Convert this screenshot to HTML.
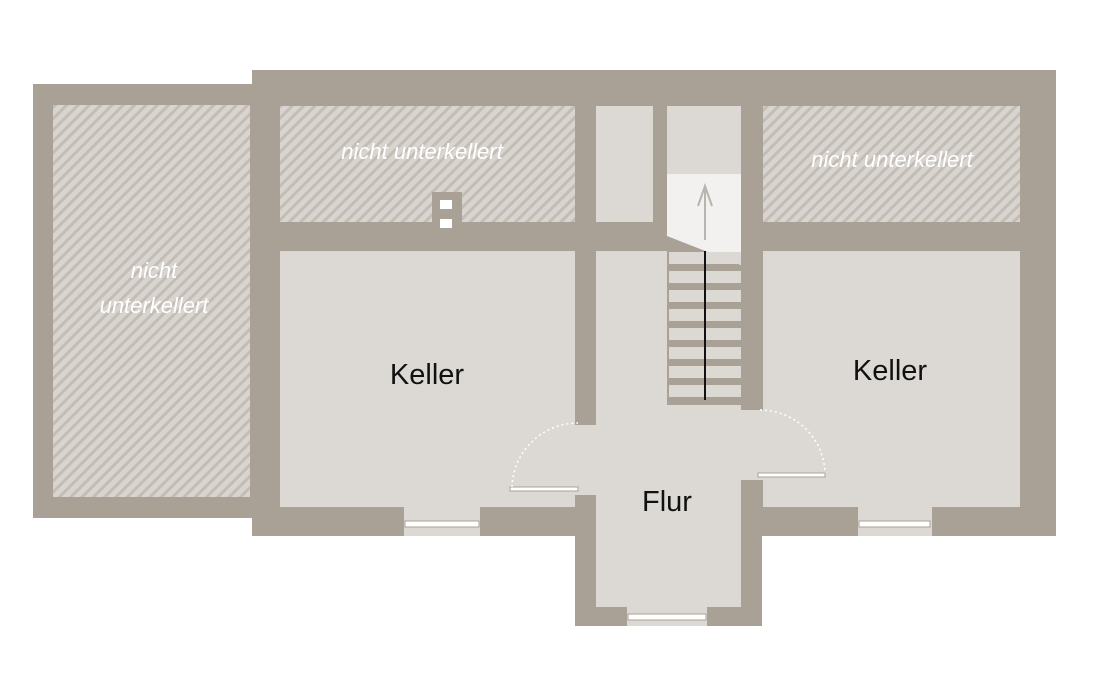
<!DOCTYPE html>
<html><head><style>body{margin:0;background:#fff}svg{display:block}</style></head><body>
<svg width="1098" height="686" viewBox="0 0 1098 686" xmlns="http://www.w3.org/2000/svg">
<defs>
<pattern id="h" patternUnits="userSpaceOnUse" width="8" height="8" patternTransform="rotate(45)">
<rect width="8" height="8" fill="#d8d4cf"/><rect width="3" height="8" fill="#c4bdb5"/>
</pattern>
</defs>
<g fill="#a9a196">
<rect x="33" y="84" width="225" height="434"/>
<rect x="252" y="70" width="804" height="466"/>
<rect x="575" y="500" width="187" height="126"/>
</g>
<rect x="53" y="105" width="197" height="392" fill="url(#h)"/>
<rect x="280" y="106" width="295" height="116" fill="url(#h)"/>
<rect x="763" y="106" width="257" height="116" fill="url(#h)"/>
<rect x="432" y="192" width="30" height="36" fill="#a9a196"/>
<g fill="#dcd9d4">
<rect x="596" y="106" width="57" height="116"/>
<rect x="667" y="106" width="74" height="70"/>
<rect x="280" y="251" width="295" height="256"/>
<rect x="763" y="251" width="257" height="256"/>
<rect x="596" y="251" width="71" height="356"/>
<rect x="596" y="405" width="145" height="202"/>
<rect x="575" y="425" width="22" height="70"/>
<rect x="741" y="410" width="22" height="70"/>
<rect x="404" y="507" width="76" height="29"/>
<rect x="858" y="507" width="74" height="29"/>
<rect x="627" y="607" width="80" height="19"/>
</g>
<polygon points="667,174 741,174 741,265 667,236" fill="#f2f1ef"/>
<g fill="#dcd9d4">
<rect x="669" y="252" width="72" height="12"/>
<rect x="669" y="271" width="72" height="12"/>
<rect x="669" y="290" width="72" height="12"/>
<rect x="669" y="309" width="72" height="12"/>
<rect x="669" y="328" width="72" height="12"/>
<rect x="669" y="347" width="72" height="12"/>
<rect x="669" y="366" width="72" height="12"/>
<rect x="669" y="385" width="72" height="12"/>
</g>
<line x1="705" y1="251" x2="705" y2="400" stroke="#111" stroke-width="2"/>
<line x1="705" y1="240" x2="705" y2="188" stroke="#b8b4ae" stroke-width="2"/>
<polyline points="698,206 705,186 712,206" fill="none" stroke="#b8b4ae" stroke-width="2"/>
<rect x="440" y="200" width="12" height="9" fill="#fff"/>
<rect x="440" y="219" width="12" height="9" fill="#fff"/>
<g fill="#fff" stroke="#a9a196" stroke-width="1">
<rect x="405" y="521" width="74" height="6"/>
<rect x="859" y="521" width="71" height="6"/>
<rect x="628" y="614" width="78" height="6"/>
<rect x="510" y="487" width="68" height="4"/>
<rect x="758" y="473" width="67" height="4"/>
</g>
<g fill="none" stroke="#fff" stroke-width="1.5" stroke-dasharray="2,3">
<path d="M512,487 A66,66 0 0 1 578,423"/>
<path d="M760,410 A65,65 0 0 1 825,473"/>
</g>
<g font-family="'Liberation Sans',sans-serif" font-style="italic" fill="#fff" font-size="22" text-anchor="middle">
<text x="422" y="159">nicht unterkellert</text>
<text x="892" y="167">nicht unterkellert</text>
<text x="154" y="278">nicht</text>
<text x="154" y="313">unterkellert</text>
</g>
<g font-family="'Liberation Sans',sans-serif" fill="#111" font-size="29" text-anchor="middle">
<text x="427" y="384">Keller</text>
<text x="890" y="380">Keller</text>
<text x="667" y="511">Flur</text>
</g>
</svg>
</body></html>
